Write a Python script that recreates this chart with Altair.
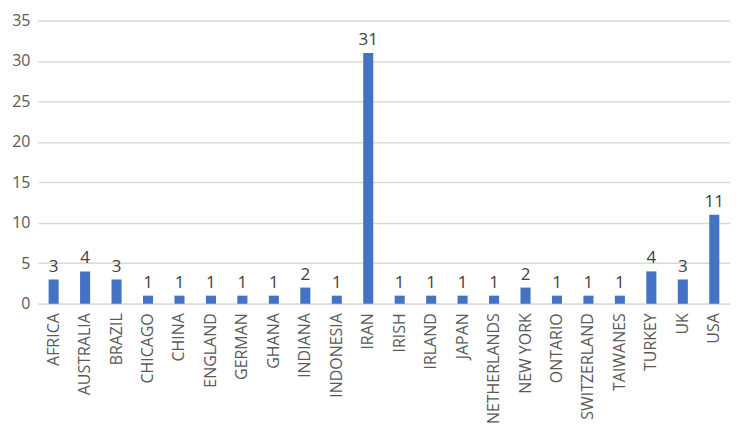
import altair as alt
import pandas as pd

countries = ["AFRICA", "AUSTRALIA", "BRAZIL", "CHICAGO", "CHINA", "ENGLAND", "GERMAN",
             "GHANA", "INDIANA", "INDONESIA", "IRAN", "IRISH", "IRLAND", "JAPAN",
             "NETHERLANDS", "NEW YORK", "ONTARIO", "SWITZERLAND", "TAIWANES", "TURKEY",
             "UK", "USA"]
counts = [3, 4, 3, 1, 1, 1, 1, 1, 2, 1, 31, 1, 1, 1, 1, 2, 1, 1, 1, 4, 3, 11]

df = pd.DataFrame({"country": countries, "count": counts})

font = "Open Sans"
x = alt.X("country:N", sort=countries, title=None,
          scale=alt.Scale(paddingInner=0.68, paddingOuter=0.34),
          axis=alt.Axis(labelAngle=-90, labelAlign="right", labelBaseline="middle",
                        labelFontSize=16, labelColor="#595959", labelFont=font,
                        ticks=False, domain=True, domainColor="#D9D9D9",
                        domainWidth=1.5, labelPadding=9, labelLimit=200))
y = alt.Y("count:Q", title=None,
          scale=alt.Scale(domain=[0, 35], nice=False),
          axis=alt.Axis(values=[0, 5, 10, 15, 20, 25, 30, 35], labelFontSize=16,
                        labelColor="#595959", labelFont=font, ticks=False,
                        domain=False, grid=True, gridColor="#D9D9D9",
                        gridWidth=1.5, labelPadding=8))

base = alt.Chart(df)
bars = base.mark_bar(color="#4472C4").encode(x=x, y=y)
labels = base.mark_text(dy=-13, fontSize=17, color="#404040", font=font).encode(
    x=x, y=y, text="count:Q")

chart = (bars + labels).properties(
    width=694, height=284,
    autosize=alt.AutoSizeParams(type="none"),
    padding={"left": 30, "top": 12, "right": 0, "bottom": 121},
).configure_view(stroke=None)

chart.save("out.html", embed_options={"renderer": "svg", "actions": False})
